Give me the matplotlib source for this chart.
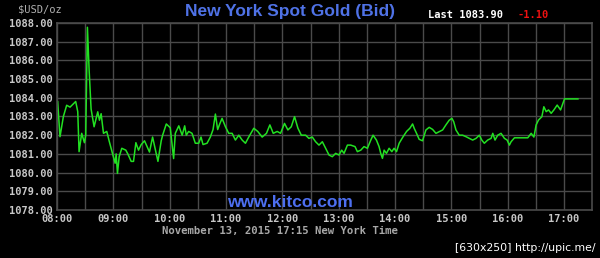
import numpy as np
import matplotlib
matplotlib.use("Agg")
import matplotlib.pyplot as plt

# ------------------------------------------------------------
# Дані (хвилини від 08:00, ціна $/oz)
# ------------------------------------------------------------

minutes = [0.7, 3.2, 6.8, 10.3, 13.9, 19.9, 22.1, 23.5, 26.3, 29.2,
           30.6, 32.4, 34.2, 36.3, 39.5, 43.4, 45.2, 47.0, 49.5, 53.0,
           55.5, 60.1, 61.9, 63.0, 64.4, 66.2, 69.0, 73.3, 75.4, 79.0,
           81.5, 84.0, 86.8, 89.7, 93.2, 98.5, 101.8, 107.5, 111.0, 112.5,
           116.4, 120.6, 124.2, 126.0, 129.7, 133.3, 136.0,
           137.7, 140.2, 143.8, 147.3, 150.9, 153.4, 155.5, 159.8, 163.3,
           166.2, 168.7, 171.1, 173.3, 175.8, 179.4, 182.9, 186.5, 190.0,
           193.6, 197.2, 200.7, 204.2, 209.6, 213.8, 218.5, 223.1, 226.7,
           230.3, 234.5, 238.1, 242.3, 245.9, 249.5, 253.0, 256.6, 260.2,
           264.8, 268.3, 271.9,
           275.4, 279.0, 282.6, 286.1, 289.7, 293.2, 296.8, 300.3, 303.2,
           305.7, 309.3, 312.8, 317.4, 319.9, 323.5, 327.0, 330.6, 334.2,
           336.6, 340.2, 343.0, 344.8, 346.6, 348.4, 350.9, 353.7, 356.6,
           359.0, 361.6, 364.4, 368.6, 372.3, 375.8, 378.7, 380.4, 382.9,
           385.7, 389.3, 392.9, 396.4, 400.0, 403.6, 407.1, 410.7, 414.2,
           417.7, 420.6,
           422.5, 424.9, 428.4, 432.0, 435.6, 439.1, 442.7, 446.3, 449.8,
           452.4, 455.1, 458.7, 462.3, 464.1, 466.5, 469.4, 472.9, 476.5,
           479.4, 481.8, 483.6, 487.2, 501.4, 505.0, 507.9, 510.3, 512.8,
           516.4, 518.5, 521.0, 523.5, 526.3, 529.2, 532.7, 536.3, 540.5,
           554.8]

prices = [1083.79, 1081.92, 1083.00, 1083.60, 1083.50, 1083.80, 1083.26, 1081.12, 1082.10, 1081.60,
          1082.00, 1087.77, 1085.50, 1083.40, 1082.45, 1083.25, 1082.80, 1083.15, 1082.10, 1082.20,
          1081.70, 1080.85, 1080.50, 1081.00, 1079.96, 1080.85, 1081.30, 1081.20, 1081.00, 1080.60,
          1080.60, 1081.60, 1081.20, 1081.50, 1081.70, 1081.10, 1081.90, 1080.60, 1081.70, 1082.00,
          1082.60, 1082.40, 1080.75, 1082.10, 1082.50, 1082.00, 1082.50,
          1082.00, 1082.20, 1082.10, 1081.57, 1081.57, 1081.90, 1081.50, 1081.57, 1081.90,
          1082.30, 1083.13, 1082.30, 1082.60, 1082.90, 1082.45, 1082.10, 1082.10, 1081.74,
          1082.00, 1081.74, 1081.57, 1081.90, 1082.37, 1082.20, 1081.90, 1082.10, 1082.55,
          1082.10, 1082.20, 1082.10, 1082.63, 1082.28, 1082.45, 1082.99, 1082.37, 1082.00,
          1082.00, 1081.83, 1081.90,
          1081.65, 1081.47, 1081.65, 1081.30, 1080.94, 1080.85, 1081.03, 1080.94, 1081.20,
          1081.03, 1081.47, 1081.47, 1081.39, 1081.12, 1081.20, 1081.39, 1081.30, 1081.74,
          1082.00, 1081.74, 1081.39, 1081.03, 1080.76, 1081.20, 1081.03, 1081.30, 1081.12,
          1081.30, 1081.12, 1081.57, 1081.92, 1082.20, 1082.37, 1082.60, 1082.37, 1082.10,
          1081.78, 1081.70, 1082.28, 1082.42, 1082.31, 1082.10, 1082.19, 1082.28, 1082.55,
          1082.80, 1082.90,
          1082.72, 1082.28, 1082.00, 1082.00, 1081.92, 1081.83, 1081.74, 1081.83, 1082.00,
          1081.74, 1081.57, 1081.74, 1081.83, 1082.10, 1081.74, 1082.00, 1082.10, 1081.83,
          1081.74, 1081.47, 1081.65, 1081.86, 1081.86, 1082.10, 1081.90, 1082.55, 1082.81,
          1082.99, 1083.52, 1083.26, 1083.35, 1083.17, 1083.35, 1083.61, 1083.35, 1083.94,
          1083.94]

y_ticks = [1078, 1079, 1080, 1081, 1082, 1083, 1084, 1085, 1086, 1087, 1088]
x_tick_min = [0, 60, 120, 180, 240, 300, 360, 420, 480, 540]
x_tick_labels = ["08:00", "09:00", "10:00", "11:00", "12:00",
                 "13:00", "14:00", "15:00", "16:00", "17:00"]

# ============================================================
# Малюнок
# ============================================================

fig = plt.figure(figsize=(6.0, 2.58), dpi=100, facecolor="black")
ax = fig.add_axes([0.095, 0.186, 0.892, 0.725], facecolor="black")

ax.plot(minutes, prices, color="#22e022", lw=1.1)

ax.set_xlim(0, 570)
ax.set_ylim(1078, 1088)
ax.set_yticks(y_ticks)
ax.set_yticklabels([f"{v:.2f}" for v in y_ticks])
ax.set_xticks(x_tick_min)
ax.set_xticklabels(x_tick_labels)
ax.set_xticks(np.arange(30, 570, 60), minor=True)

ax.grid(True, which="both", color="#4a4a4a", lw=1.0)
ax.tick_params(which="both", length=0, pad=3, colors="#c8c8c8")
for lbl in ax.get_xticklabels() + ax.get_yticklabels():
    lbl.set_family("DejaVu Sans Mono")
    lbl.set_fontsize(7.5)
    lbl.set_fontweight("bold")
for s in ax.spines.values():
    s.set_color("#4a4a4a")
    s.set_linewidth(1.2)

mono = "DejaVu Sans Mono"
fig.text(0.03, 0.965, "$USD/oz", color="#b0b0b0", fontsize=7.5,
         family=mono, va="center", ha="left")
fig.text(0.483, 0.955, "New York Spot Gold (Bid)", color="#4f72e6",
         fontsize=12.5, fontweight="bold", family="Liberation Sans",
         ha="center", va="center")
fig.text(0.713, 0.94, "Last 1083.90", color="white", fontsize=7.5,
         family=mono, fontweight="bold", ha="left", va="center")
fig.text(0.862, 0.94, "-1.10", color="#ee1111", fontsize=7.5,
         family=mono, fontweight="bold", ha="left", va="center")
fig.text(0.483, 0.215, "www.kitco.com", color="#4d6ff0", fontsize=12.5,
         fontweight="bold", family="Liberation Sans", ha="center", va="center")
fig.text(0.467, 0.105, "November 13, 2015 17:15 New York Time",
         color="#a8a8a8", fontsize=7.7, family=mono, fontweight="bold",
         ha="center", va="center")
fig.text(0.992, 0.04, "[630x250] http://upic.me/", color="white",
         fontsize=7.8, family="DejaVu Sans", ha="right", va="center")

fig.savefig("out.png", dpi=100, facecolor="black")
